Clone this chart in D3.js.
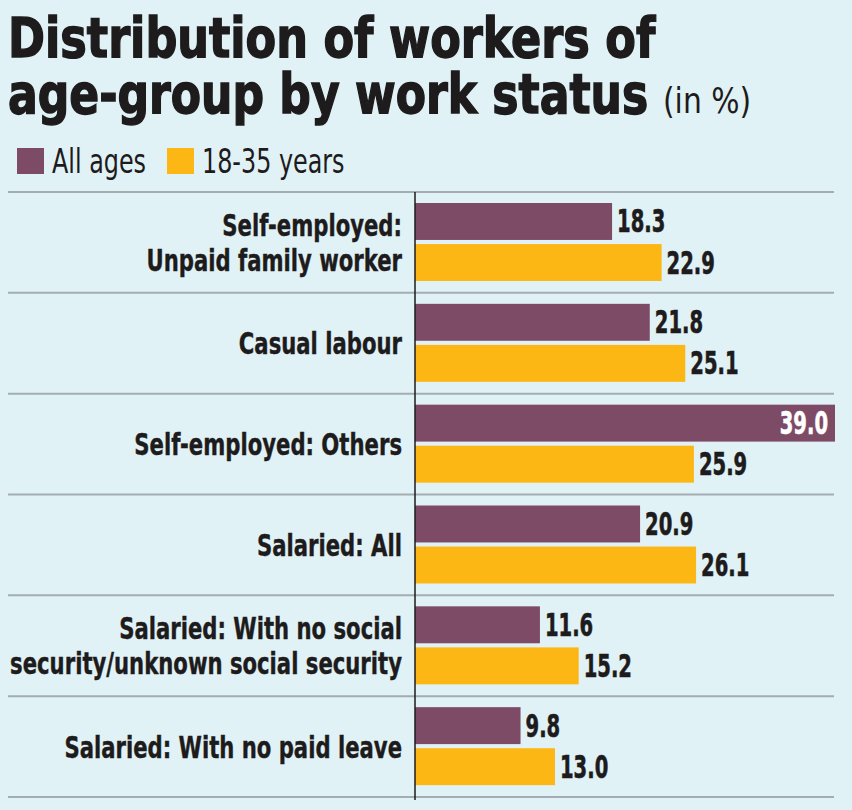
<!DOCTYPE html>
<html>
<head>
<meta charset="utf-8">
<script src="https://cdn.jsdelivr.net/npm/d3@7"></script>
<style>
  body { margin: 0; background: #e1f2f6; }
  svg { display: block; }
  text { font-family: "DejaVu Sans Condensed", "DejaVu Sans", sans-serif; }
</style>
</head>
<body>
<svg width="852" height="810"></svg>
<script>
var categories = ["Self-employed: Unpaid family worker", "Casual labour", "Self-employed: Others",
    "Salaried: All", "Salaried: With no social security/unknown social security", "Salaried: With no paid leave"];
var labelLines = [["Self-employed:", "Unpaid family worker"], ["Casual labour"], ["Self-employed: Others"],
    ["Salaried: All"], ["Salaried: With no social", "security/unknown social security"], ["Salaried: With no paid leave"]];
var seriesNames = ["All ages", "18-35 years"];
var allAges = [18.3, 21.8, 39.0, 20.9, 11.6, 9.8];
var youth = [22.9, 25.1, 25.9, 26.1, 15.2, 13.0];
var colors = ["#7d4b66", "#fdb714"];
var ink = "#1d1b1c";

var svg = d3.select("svg");
svg.append("rect").attr("width", 852).attr("height", 810).attr("fill", "#e1f2f6");

// squeezed text helper (the original uses a condensed face)
function squeezed(sel, px, py, sx) {
    return sel.append("g").attr("transform", "translate(" + px + "," + py + ") scale(" + sx + ",1)")
        .append("text");
}

// title
squeezed(svg, 8, 57, 0.885).attr("font-size", 56).attr("font-weight", "bold")
    .attr("fill", ink).attr("stroke", ink).attr("stroke-width", 1.4)
    .text("Distribution of workers of");
squeezed(svg, 8, 113, 0.875).attr("font-size", 56).attr("font-weight", "bold")
    .attr("fill", ink).attr("stroke", ink).attr("stroke-width", 1.4)
    .text("age-group by work status");
squeezed(svg, 663, 113, 0.92).attr("font-size", 36).attr("fill", ink).text("(in %)");

// legend
var legend = svg.append("g").selectAll("g").data(seriesNames).enter().append("g")
    .attr("transform", function (d, i) { return "translate(" + [17, 167][i] + ",148)"; });
legend.append("rect").attr("width", 27).attr("height", 26).attr("fill", function (d, i) { return colors[i]; });
legend.append("g").attr("transform", "translate(35,25) scale(0.78,1)")
    .append("text").attr("font-size", 34).attr("fill", ink).text(function (d) { return d; });

var x = d3.scaleLinear().domain([0, 39]).range([415, 835]);
var y = d3.scaleBand().domain(categories).range([192, 797]);
var sub = d3.scaleBand().domain(seriesNames).range([11, 89]).paddingInner(0.1);

// gridlines
var edges = categories.map(function (c) { return y(c); }).concat([y.range()[1]]);
svg.append("g").selectAll("line").data(edges).enter().append("line")
    .attr("x1", 8).attr("x2", 834)
    .attr("y1", function (d) { return d; }).attr("y2", function (d) { return d; })
    .attr("stroke", "#a3acb0").attr("stroke-width", 2);

var rows = categories.map(function (c, i) {
    return {cat: c, lines: labelLines[i], vals: [allAges[i], youth[i]]};
});

var row = svg.append("g").selectAll("g").data(rows).enter().append("g")
    .attr("transform", function (d) { return "translate(0," + y(d.cat) + ")"; });

function pairs(d) {
    return d.vals.map(function (v, i) { return {name: seriesNames[i], v: v, i: i}; });
}

row.selectAll("rect").data(pairs).enter().append("rect")
    .attr("x", x(0))
    .attr("y", function (d) { return sub(d.name); })
    .attr("width", function (d) { return x(d.v) - x(0); })
    .attr("height", sub.bandwidth())
    .attr("fill", function (d) { return colors[d.i]; });

// value labels, the longest one sits inside its bar
row.selectAll(".val").data(pairs).enter().append("g")
    .attr("class", "val")
    .attr("transform", function (d) {
        var inside = d.v >= 35;
        var px = inside ? x(d.v) - 7 : x(d.v) + 5;
        return "translate(" + px + "," + (sub(d.name) + sub.bandwidth() / 2 + 11) + ") scale(0.68,1)";
    })
    .append("text")
    .attr("font-weight", "bold").attr("font-size", 32)
    .attr("stroke-width", 0.6)
    .attr("text-anchor", function (d) { return d.v >= 35 ? "end" : "start"; })
    .attr("fill", function (d) { return d.v >= 35 ? "#ffffff" : ink; })
    .attr("stroke", function (d) { return d.v >= 35 ? "#ffffff" : ink; })
    .text(function (d) { return d.v.toFixed(1); });

// category labels
row.append("g").attr("transform", "translate(402,0) scale(0.785,1)")
    .append("text")
    .attr("font-weight", "bold").attr("font-size", 30).attr("fill", ink)
    .attr("stroke", ink).attr("stroke-width", 0.4)
    .attr("text-anchor", "end")
    .selectAll("tspan").data(function (d) {
        return d.lines.map(function (l, i) { return {l: l, i: i, n: d.lines.length}; });
    }).enter().append("tspan")
    .attr("x", 0)
    .attr("y", function (d) { return y.bandwidth() / 2 + 11 + (d.i - (d.n - 1) / 2) * 35; })
    .text(function (d) { return d.l; });

// axis line
svg.append("line").attr("x1", x(0)).attr("x2", x(0)).attr("y1", 192).attr("y2", 800)
    .attr("stroke", ink).attr("stroke-width", 1.5);
</script>
</body>
</html>
